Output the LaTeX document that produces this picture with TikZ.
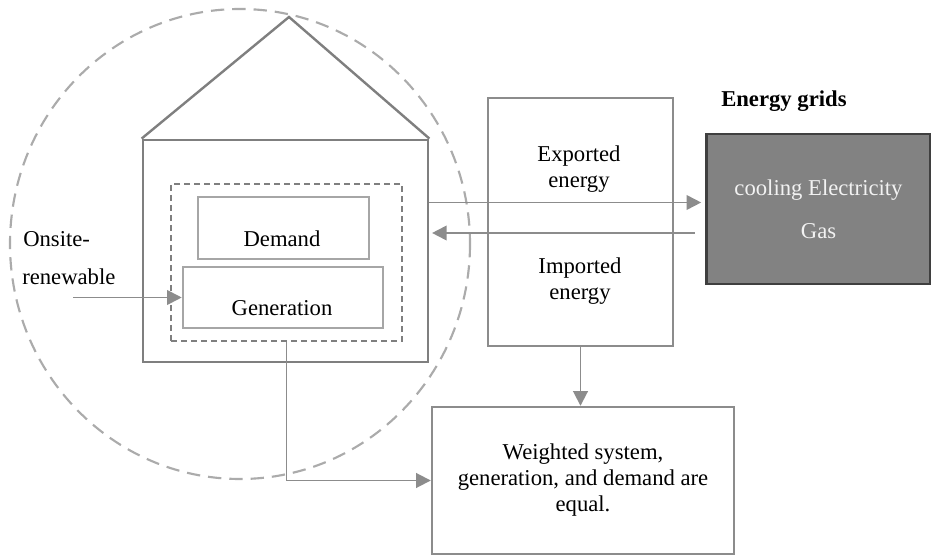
\documentclass[tikz,border=0pt]{standalone}
\usepackage{fontspec}
\setmainfont{Liberation Serif}
\usetikzlibrary{arrows.meta,calc}
\definecolor{houseline}{HTML}{7F7F7F}
\definecolor{boxline}{HTML}{8C8C8C}
\definecolor{lightline}{HTML}{A6A6A6}
\definecolor{circleline}{HTML}{ABABAB}
\definecolor{gridfill}{HTML}{828282}
\definecolor{gridline}{HTML}{3F3F3F}
\definecolor{gridtext}{HTML}{F2F2F2}
\begin{document}
\begin{tikzpicture}[x=0.75pt,y=-0.75pt,
  every node/.style={font=\fontsize{17}{19.5}\selectfont},
  emptybox/.style={draw, rectangle, inner sep=0pt},
  lbl/.style={inner sep=0pt, anchor=base},
  arr/.style={draw=boxline, line width=1.4pt, -{Triangle[length=11pt,width=11pt]}, color=boxline},
]
\useasboundingbox (0,0) rectangle (931,555);

% boundary of the building balance (dashed circle)
\draw[circleline, line width=1.6pt, dash pattern=on 10pt off 6pt]
  (240,244) ellipse [x radius=230, y radius=235];

% the building: body and roof
\node[emptybox, draw=houseline, line width=2.1pt, minimum width=213.75pt, minimum height=166.5pt]
  (house) at (285.5,251) {};
\coordinate (apex) at (289,17);
\draw[houseline, line width=1.8pt] (house.north west) -- (apex) -- (house.north east);

% system boundary inside the building
\node[emptybox, draw=houseline, line width=1.6pt, dash pattern=on 4.5pt off 3pt,
  minimum width=173.25pt, minimum height=117.75pt] (inner) at (286.5,262.5) {};

% demand and generation
\node[emptybox, draw=lightline, line width=1.9pt, minimum width=128.25pt, minimum height=46.5pt]
  (demand) at (283.5,228) {};
\node[lbl] (demandtxt) at (282,247) {Demand};
\node[emptybox, draw=lightline, line width=1.9pt, minimum width=150pt, minimum height=45.75pt]
  (gen) at (283,297.5) {};
\node[lbl] (gentxt) at (282,316) {Generation};

% onsite renewable input
\node[lbl, anchor=base west] (onsite) at (23,247) {Onsite-};
\node[lbl, anchor=base west] (renew) at (22,285) {renewable};
\coordinate (renewstart) at (73,297.5);
\draw[arr] (renewstart) -- (gen.west);

% exported / imported energy
\node[emptybox, draw=boxline, line width=1.8pt, minimum width=138.75pt, minimum height=186pt]
  (mid) at (580.5,222) {};
\node[inner sep=0pt, align=center] (exptxt) at (579,169.5) {Exported\\energy};
\node[inner sep=0pt, align=center] (imptxt) at (580,281) {Imported\\energy};

% energy grids
\node[lbl, anchor=base west, font=\fontsize{17}{19.5}\selectfont\bfseries] (gridtitle) at (721,107) {Energy grids};
\node[draw=gridline, fill=gridfill, line width=2pt, rectangle, inner sep=0pt,
  minimum width=168pt, minimum height=112.5pt, align=center, text=gridtext]
  (grid) at (818.5,209) {cooling Electricity\\[13pt]Gas};

% balance result
\node[emptybox, draw=boxline, line width=1.8pt, minimum width=226.5pt, minimum height=110.25pt,
  align=center] (weighted) at (583,480.5)
  {Weighted system,\\generation, and demand are\\equal.};

% flows
\coordinate (expy) at (0,202.5);
\coordinate (impy) at (0,233);
\draw[arr] (house.east |- expy) -- ([xshift=-3]grid.west |- expy);
\draw[arr] ([xshift=-8]grid.west |- impy) -- ([xshift=2]house.east |- impy);
\draw[arr] (mid.south) -- (mid.south |- weighted.north);
\draw[arr] (inner.south) |- (weighted.west);
\end{tikzpicture}
\end{document}
